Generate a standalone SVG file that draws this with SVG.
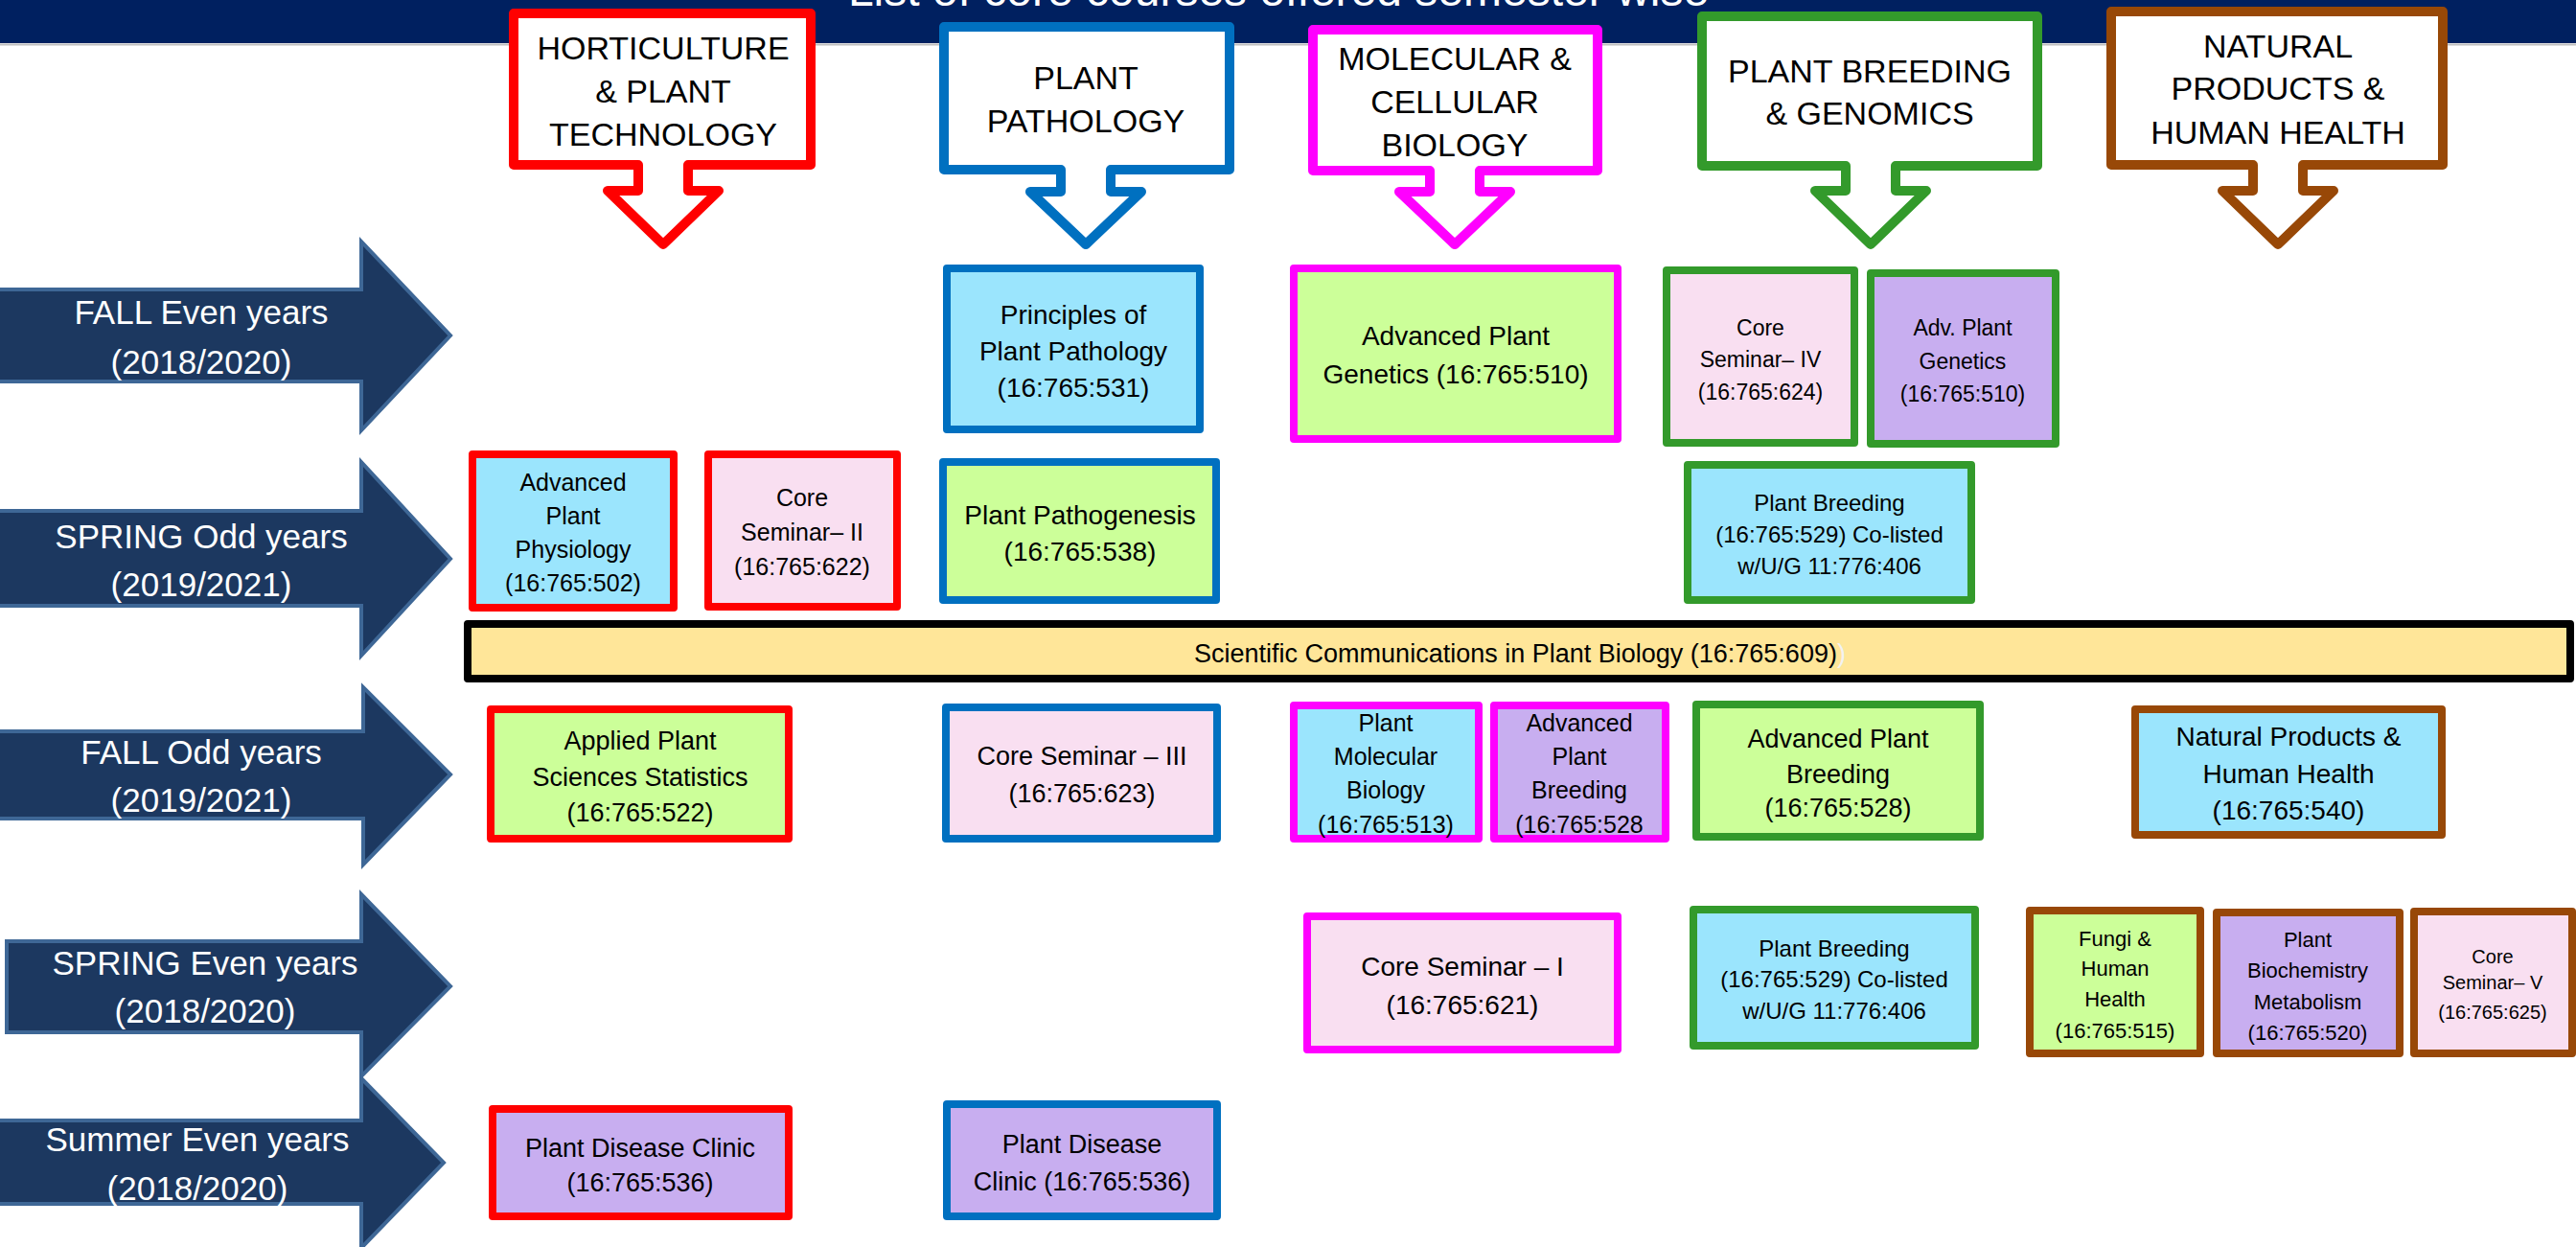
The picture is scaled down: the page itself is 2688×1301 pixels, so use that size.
<svg xmlns="http://www.w3.org/2000/svg" width="2688" height="1301" viewBox="0 0 2688 1301">
<style>
text{font-family:"Liberation Sans",Arial,sans-serif;text-anchor:middle;fill:#000}
.sem{fill:#1C3860;stroke:#3E6796;stroke-width:4;stroke-linejoin:miter}
.semt{fill:#fff;font-size:35px}
.call{fill:#fff;stroke-width:10;stroke-linejoin:round}
.ct{font-size:34px}
.box{stroke-width:8;stroke-linejoin:round}
.red{stroke:#FF0000}.blu{stroke:#0070C0}.mag{stroke:#FF00FF}.grn{stroke:#339A2B}.brn{stroke:#984807}
.fb{fill:#9BE5FD}.fg{fill:#CCFF99}.fp{fill:#F9DFF1}.fv{fill:#C8AEF0}
</style>
<rect x="0" y="0" width="2688" height="1301" fill="#fff"/>
<g id="header">
<rect x="0" y="0" width="2688" height="45" fill="#002060"/>
<line x1="0" y1="46.5" x2="2688" y2="46.5" stroke="#BFBFBF" stroke-width="2"/>
<text x="1334" y="6" style="fill:#fff;font-size:48px">List of core courses offered semester wise</text>
</g>
<g id="semesters">
<g id="sem-fall-even"><polygon class="sem" points="-5,302 377,302 377,252 470,350 377,449 377,398 -5,398"/><text class="semt" x="210" y="338">FALL Even years</text><text class="semt" x="210" y="390">(2018/2020)</text></g>
<g id="sem-spring-odd"><polygon class="sem" points="-5,533 377,533 377,482 470,583 377,684 377,632 -5,632"/><text class="semt" x="210" y="572">SPRING Odd years</text><text class="semt" x="210" y="622">(2019/2021)</text></g>
<g id="sem-fall-odd"><polygon class="sem" points="-5,763 379,763 379,717 470,808 379,902 379,854 -5,854"/><text class="semt" x="210" y="797">FALL Odd years</text><text class="semt" x="210" y="847">(2019/2021)</text></g>
<g id="sem-spring-even"><polygon class="sem" points="7,982 377,982 377,933 470,1029 377,1123 377,1077 7,1077"/><text class="semt" x="214" y="1017">SPRING Even years</text><text class="semt" x="214" y="1067">(2018/2020)</text></g>
<g id="sem-summer-even"><polygon class="sem" points="-5,1169 377,1169 377,1125 463,1213 377,1302 377,1256 -5,1256"/><text class="semt" x="206" y="1201">Summer Even years</text><text class="semt" x="206" y="1252">(2018/2020)</text></g>
</g>
<g id="departments">
<g id="dept-hort"><path class="call red" d="M536,14 H846 V172 H718 V199 H750 L692,255 L634,199 H666 V172 H536 Z"/><text class="ct" x="692" y="62">HORTICULTURE</text><text class="ct" x="692" y="107">&amp; PLANT</text><text class="ct" x="692" y="152">TECHNOLOGY</text></g>
<g id="dept-path"><path class="call blu" d="M985,28 H1283 V177 H1159 V200 H1191 L1133,255 L1075,200 H1107 V177 H985 Z"/><text class="ct" x="1133" y="93">PLANT</text><text class="ct" x="1133" y="138">PATHOLOGY</text></g>
<g id="dept-mol"><path class="call mag" d="M1370,31 H1667 V178 H1544 V200 H1576 L1518,255 L1460,200 H1492 V178 H1370 Z"/><text class="ct" x="1518" y="73">MOLECULAR &amp;</text><text class="ct" x="1518" y="118">CELLULAR</text><text class="ct" x="1518" y="163">BIOLOGY</text></g>
<g id="dept-breed"><path class="call grn" d="M1776,17 H2126 V173 H1978 V199 H2010 L1952,255 L1894,199 H1926 V173 H1776 Z"/><text class="ct" x="1951" y="86">PLANT BREEDING</text><text class="ct" x="1951" y="130">&amp; GENOMICS</text></g>
<g id="dept-nat"><path class="call brn" d="M2203,12 H2549 V172 H2403 V199 H2435 L2377,255 L2319,199 H2351 V172 H2203 Z"/><text class="ct" x="2377" y="60">NATURAL</text><text class="ct" x="2377" y="104">PRODUCTS &amp;</text><text class="ct" x="2377" y="150">HUMAN HEALTH</text></g>
</g>
<g id="courses">
<g id="c-adv-plant-phys" style="font-size:25px"><rect class="box red fb" x="493" y="474" width="210" height="160"/><text x="598" y="512" style="font-size:25px">Advanced</text><text x="598" y="547" style="font-size:25px">Plant</text><text x="598" y="582" style="font-size:25px">Physiology</text><text x="598" y="617" style="font-size:25px">(16:765:502)</text></g>
<g id="c-core-sem-2"><rect class="box red fp" x="739" y="474" width="197" height="159"/><text x="837" y="528" style="font-size:25px">Core</text><text x="837" y="564" style="font-size:25px">Seminar– II</text><text x="837" y="600" style="font-size:25px">(16:765:622)</text></g>
<g id="c-principles"><rect class="box blu fb" x="988" y="280" width="264" height="168"/><text x="1120" y="338" style="font-size:28px">Principles of</text><text x="1120" y="376" style="font-size:28px">Plant Pathology</text><text x="1120" y="414" style="font-size:28px">(16:765:531)</text></g>
<g id="c-adv-plant-gen"><rect class="box mag fg" x="1350" y="280" width="338" height="178"/><text x="1519" y="360" style="font-size:28px">Advanced Plant</text><text x="1519" y="400" style="font-size:28px">Genetics (16:765:510)</text></g>
<g id="c-pathogenesis"><rect class="box blu fg" x="984" y="482" width="285" height="144"/><text x="1127" y="547" style="font-size:28px">Plant Pathogenesis</text><text x="1127" y="585" style="font-size:28px">(16:765:538)</text></g>
<g id="c-core-sem-4"><rect class="box grn fp" x="1739" y="282" width="196" height="180"/><text x="1837" y="350" style="font-size:23px">Core</text><text x="1837" y="383" style="font-size:23px">Seminar– IV</text><text x="1837" y="417" style="font-size:23px">(16:765:624)</text></g>
<g id="c-adv-plant-gen2"><rect class="box grn fv" x="1952" y="285" width="193" height="178"/><text x="2048" y="350" style="font-size:23px">Adv. Plant</text><text x="2048" y="385" style="font-size:23px">Genetics</text><text x="2048" y="419" style="font-size:23px">(16:765:510)</text></g>
<g id="c-plant-breed-odd"><rect class="box grn fb" x="1761" y="485" width="296" height="141"/><text x="1909" y="533" style="font-size:24px">Plant Breeding</text><text x="1909" y="566" style="font-size:24px">(16:765:529) Co-listed</text><text x="1909" y="599" style="font-size:24px">w/U/G 11:776:406</text></g>
<g id="c-sci-comm"><rect class="box" x="488" y="651" width="2194" height="57" style="fill:#FFE699;stroke:#000"/><text x="1586" y="691" style="font-size:27px">Scientific Communications in Plant Biology (16:765:609)<tspan style="fill:#F2F2F2">)</tspan></text></g>
<g id="c-applied-stat"><rect class="box red fg" x="512" y="740" width="311" height="135"/><text x="668" y="782" style="font-size:27px">Applied Plant</text><text x="668" y="820" style="font-size:27px">Sciences Statistics</text><text x="668" y="857" style="font-size:27px">(16:765:522)</text></g>
<g id="c-core-sem-3"><rect class="box blu fp" x="987" y="738" width="283" height="137"/><text x="1129" y="798" style="font-size:27px">Core Seminar – III</text><text x="1129" y="837" style="font-size:27px">(16:765:623)</text></g>
<g id="c-plant-mol"><rect class="box mag fb" x="1350" y="736" width="193" height="139"/><text x="1446" y="763" style="font-size:25px">Plant</text><text x="1446" y="798" style="font-size:25px">Molecular</text><text x="1446" y="833" style="font-size:25px">Biology</text><text x="1446" y="869" style="font-size:25px">(16:765:513)</text></g>
<g id="c-adv-breed-mag"><rect class="box mag fv" x="1559" y="736" width="179" height="139"/><text x="1648" y="763" style="font-size:25px">Advanced</text><text x="1648" y="798" style="font-size:25px">Plant</text><text x="1648" y="833" style="font-size:25px">Breeding</text><text x="1648" y="869" style="font-size:25px">(16:765:528</text></g>
<g id="c-adv-breed-grn"><rect class="box grn fg" x="1770" y="735" width="296" height="138"/><text x="1918" y="780" style="font-size:27px">Advanced Plant</text><text x="1918" y="817" style="font-size:27px">Breeding</text><text x="1918" y="852" style="font-size:27px">(16:765:528)</text></g>
<g id="c-nat-prod"><rect class="box brn fb" x="2228" y="740" width="320" height="131"/><text x="2388" y="778" style="font-size:28px">Natural Products &amp;</text><text x="2388" y="817" style="font-size:28px">Human Health</text><text x="2388" y="855" style="font-size:28px">(16:765:540)</text></g>
<g id="c-core-sem-1"><rect class="box mag fp" x="1364" y="956" width="324" height="139"/><text x="1526" y="1018" style="font-size:28px">Core Seminar – I</text><text x="1526" y="1058" style="font-size:28px">(16:765:621)</text></g>
<g id="c-plant-breed-even"><rect class="box grn fb" x="1767" y="949" width="294" height="142"/><text x="1914" y="998" style="font-size:24px">Plant Breeding</text><text x="1914" y="1030" style="font-size:24px">(16:765:529) Co-listed</text><text x="1914" y="1063" style="font-size:24px">w/U/G 11:776:406</text></g>
<g id="c-fungi"><rect class="box brn fg" x="2118" y="950" width="178" height="149"/><text x="2207" y="987" style="font-size:22px">Fungi &amp;</text><text x="2207" y="1018" style="font-size:22px">Human</text><text x="2207" y="1050" style="font-size:22px">Health</text><text x="2207" y="1083" style="font-size:22px">(16:765:515)</text></g>
<g id="c-biochem"><rect class="box brn fv" x="2313" y="952" width="191" height="147"/><text x="2408" y="988" style="font-size:22px">Plant</text><text x="2408" y="1020" style="font-size:22px">Biochemistry</text><text x="2408" y="1053" style="font-size:22px">Metabolism</text><text x="2408" y="1085" style="font-size:22px">(16:765:520)</text></g>
<g id="c-core-sem-5"><rect class="box brn fp" x="2519" y="951" width="165" height="148"/><text x="2601" y="1005" style="font-size:20px">Core</text><text x="2601" y="1032" style="font-size:20px">Seminar– V</text><text x="2601" y="1063" style="font-size:20px">(16:765:625)</text></g>
<g id="c-clinic-red"><rect class="box red fv" x="514" y="1157" width="309" height="112"/><text x="668" y="1207" style="font-size:27px">Plant Disease Clinic</text><text x="668" y="1243" style="font-size:27px">(16:765:536)</text></g>
<g id="c-clinic-blue"><rect class="box blu fv" x="988" y="1152" width="282" height="117"/><text x="1129" y="1203" style="font-size:27px">Plant Disease</text><text x="1129" y="1242" style="font-size:27px">Clinic (16:765:536)</text></g>
</g>
<g id="connectors"></g>
</svg>
